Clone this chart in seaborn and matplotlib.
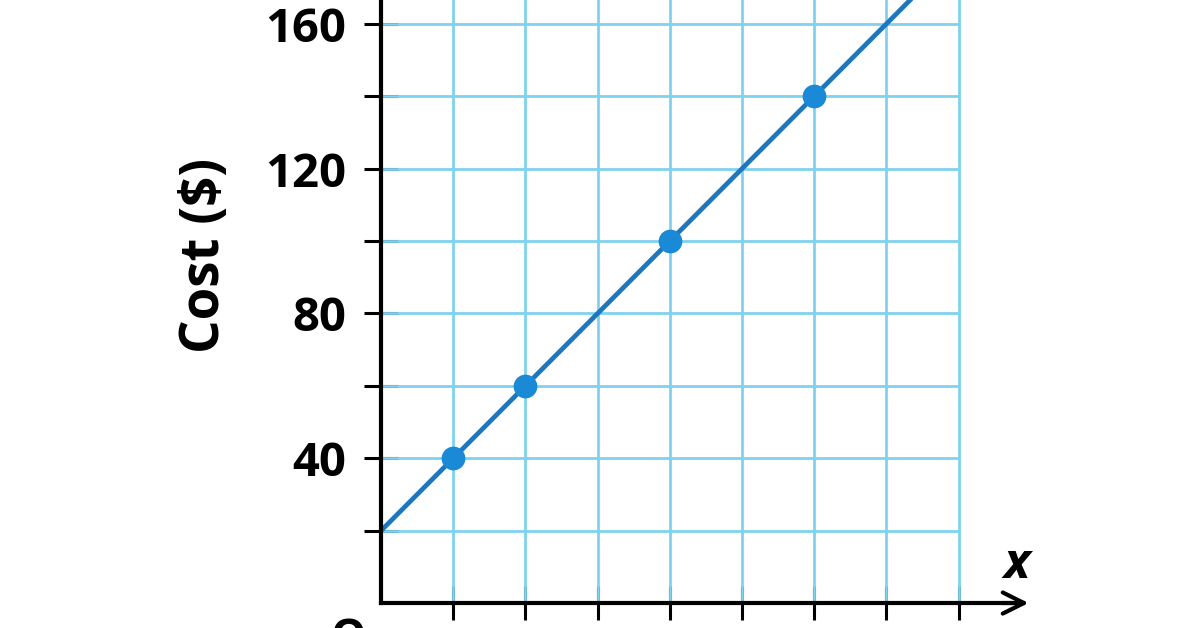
import numpy as np
import pandas as pd
import seaborn as sns
import matplotlib.pyplot as plt

# data
point_x = [1, 2, 4, 6]
point_y = [40, 60, 100, 140]
line_x = [0, 8]
line_y = [20, 180]
y_ticks = [20, 40, 60, 80, 100, 120, 140, 160]
y_labels = ["", "40", "", "80", "", "120", "", "160"]
x_ticks = [1, 2, 3, 4, 5, 6, 7, 8]

sns.set_theme(style="white")
plt.rcParams['font.family'] = ['Open Sans', 'DejaVu Sans']
plt.rcParams['text.color'] = 'black'
plt.rcParams['ytick.color'] = 'black'
plt.rcParams['xtick.color'] = 'black'

grid_color = "#7fd3ee"
line_color = "#1b78c0"
dot_color = "#1a8ad6"

fig = plt.figure(figsize=(11.96, 6.28), dpi=100)
ax = fig.add_axes([0, 0, 1, 1])
ax.set_xlim(-5.28, 11.29)
ax.set_ylim(-6.9, 166.6)

# light blue grid, only inside the first quadrant up to x = 8
ax.vlines(x_ticks, 0, 200, color=grid_color, lw=2, zorder=1)
ax.hlines(y_ticks + [180], 0, 8, color=grid_color, lw=2, zorder=1)

line_df = pd.DataFrame({"x": line_x, "y": line_y})
pts_df = pd.DataFrame({"x": point_x, "y": point_y})
sns.lineplot(data=line_df, x="x", y="y", ax=ax, color=line_color, lw=3.4, zorder=3)
sns.scatterplot(data=pts_df, x="x", y="y", ax=ax, color=dot_color, s=250,
                edgecolor=dot_color, zorder=4)

# axes through the origin
for side in ["top", "right"]:
    ax.spines[side].set_visible(False)
ax.spines["left"].set_position(("data", 0))
ax.spines["bottom"].set_position(("data", 0))
ax.spines["left"].set_bounds(0, 200)
ax.spines["bottom"].set_bounds(0, 8.9)
for side in ["left", "bottom"]:
    ax.spines[side].set_linewidth(3)
    ax.spines[side].set_color("black")
    ax.spines[side].set_zorder(5)
ax.annotate("", xy=(8.97, 0), xytext=(8.6, 0),
            arrowprops=dict(arrowstyle="->", lw=3, color="black",
                            mutation_scale=38, shrinkA=0, shrinkB=0),
            zorder=6)

ax.set_xticks(x_ticks)
ax.set_xticklabels([])
ax.set_yticks(y_ticks)
ax.set_yticklabels(y_labels, fontsize=34, fontweight="bold", color="black")
ax.tick_params(axis="both", direction="inout", length=24, width=2.2,
               color="black", left=True, bottom=True)
ax.tick_params(axis="y", pad=13)
ax.set_xlabel("")
ax.set_ylabel("")

ax.text(-2.44, 96, "Cost ($)", rotation=90, fontsize=38, fontweight="bold",
        ha="center", va="center", color="black")
ax.text(8.8, 10.5, "x", fontsize=36, fontweight="bold", style="italic",
        ha="center", va="center", color="black")
ax.text(-0.45, -3.9, "O", fontsize=32, fontweight="bold",
        ha="center", va="top", clip_on=False, color="black")

fig.savefig("out.png", dpi=100)
